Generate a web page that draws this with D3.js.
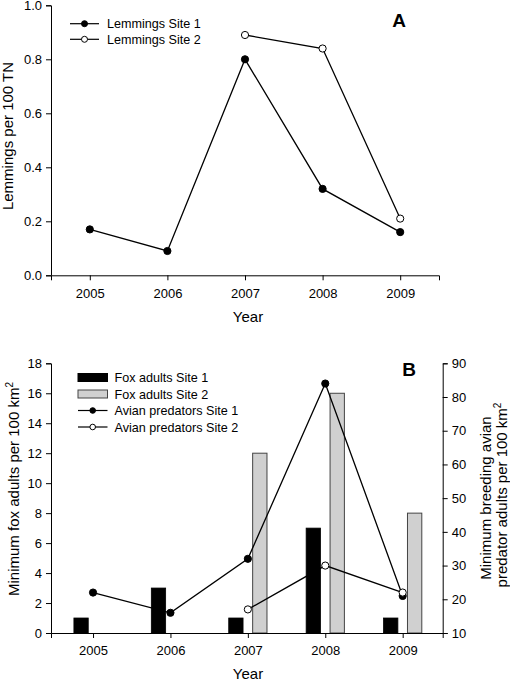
<!DOCTYPE html>
<html><head><meta charset="utf-8">
<script src="https://cdn.jsdelivr.net/npm/d3@7"></script>
<style>
body{margin:0;background:#fff}
svg{display:block;font-family:"Liberation Sans",Arial,sans-serif}
.axis path,.axis line{stroke:#000;stroke-width:1}
.axis text{font-size:13px;fill:#000;font-family:"Liberation Sans",Arial,sans-serif}
</style></head><body>
<script>
// ---- Data ----
const years = [2005, 2006, 2007, 2008, 2009];
const lemSite1 = [0.17, 0.09, 0.80, 0.32, 0.16];
const lemSite2 = [null, null, 0.89, 0.84, 0.21];
const foxSite1 = [1, 3, 1, 7, 1];
const foxSite2 = [0, 0, 12, 16, 8];
const avianSite1 = [22, 16, 32, 84, 21];
const avianSite2 = [null, null, 17, 30, 22];
const lemTicks = [0, 0.2, 0.4, 0.6, 0.8, 1.0];
const foxTicks = [0, 2, 4, 6, 8, 10, 12, 14, 16, 18];
const avianTicks = [10, 20, 30, 40, 50, 60, 70, 80, 90];

const W = 510, H = 681;
const svg = d3.select("body").append("svg").attr("width", W).attr("height", H);

function pts(vals){ return years.map((y,i)=>({x:y, v:vals[i]})).filter(d=>d.v!=null); }

// ---- Panel A ----
const xA = d3.scaleLinear().domain([2004.5, 2009.5]).range([51, 439]);
const yA = d3.scaleLinear().domain([0, 1]).range([275.3, 5.3]);
const gA = svg.append("g");
gA.append("g").attr("class","axis").attr("transform","translate(0,275.3)")
  .call(d3.axisBottom(xA).tickValues(years).tickFormat(d3.format("d")).tickSizeOuter(0).tickSize(5).tickPadding(8));
gA.append("g").attr("class","axis").attr("transform","translate(51,0)")
  .call(d3.axisLeft(yA).tickValues(lemTicks).tickFormat(d3.format(".1f")).tickSizeOuter(0).tickSize(5).tickPadding(4));

const lineA = d3.line().x(d=>xA(d.x)).y(d=>yA(d.v));
[[lemSite1,"#000"],[lemSite2,"#fff"]].forEach(([vals,fill])=>{
  const p = pts(vals);
  gA.append("path").datum(p).attr("d",lineA).attr("fill","none").attr("stroke","#000").attr("stroke-width",1.3);
  gA.selectAll(null).data(p).join("circle").attr("cx",d=>xA(d.x)).attr("cy",d=>yA(d.v)).attr("r",3.6)
    .attr("fill",fill).attr("stroke","#000").attr("stroke-width",1);
});
gA.append("text").attr("x",248).attr("y",322).attr("text-anchor","middle").attr("font-size",15).text("Year");
gA.append("text").attr("transform","translate(12.5,136) rotate(-90)").attr("text-anchor","middle").attr("font-size",15).text("Lemmings per 100 TN");
gA.append("text").attr("x",399).attr("y",26.5).attr("text-anchor","middle").attr("font-size",19).attr("font-weight","bold").text("A");

// Legend A
const legA = [["Lemmings Site 1","#000"],["Lemmings Site 2","#fff"]];
legA.forEach(([lab,fill],i)=>{
  const y = 23.7 + i*15.6;
  gA.append("line").attr("x1",70).attr("x2",99).attr("y1",y).attr("y2",y).attr("stroke","#000").attr("stroke-width",1.2);
  gA.append("circle").attr("cx",84.5).attr("cy",y).attr("r",3).attr("fill",fill).attr("stroke","#000");
  gA.append("text").attr("x",107).attr("y",y).attr("dy","0.36em").attr("font-size",12.6).text(lab);
});

// ---- Panel B ----
const xB = d3.scaleLinear().domain([2004.457, 2009.517]).range([51, 442.7]);
const yL = d3.scaleLinear().domain([0, 18]).range([633, 363.3]);
const yR = d3.scaleLinear().domain([10, 90]).range([633, 363.3]);
const gB = svg.append("g");
const barW = 0.185, gap = 0.062;

// bars
gB.selectAll(null).data(years.map((y,i)=>({x:y,v:foxSite1[i]})).filter(d=>d.v>0)).join("rect")
  .attr("x",d=>xB(d.x-gap-barW)).attr("width",d=>xB(d.x-gap)-xB(d.x-gap-barW))
  .attr("y",d=>yL(d.v)).attr("height",d=>yL(0)-yL(d.v)).attr("fill","#000").attr("stroke","#000").attr("stroke-width",0.8);
gB.selectAll(null).data(years.map((y,i)=>({x:y,v:foxSite2[i]})).filter(d=>d.v>0)).join("rect")
  .attr("x",d=>xB(d.x+gap)).attr("width",d=>xB(d.x+gap+barW)-xB(d.x+gap))
  .attr("y",d=>yL(d.v)).attr("height",d=>yL(0)-yL(d.v)).attr("fill","#d0d0d0").attr("stroke","#444").attr("stroke-width",1);

gB.append("g").attr("class","axis").attr("transform","translate(0,633)")
  .call(d3.axisBottom(xB).tickValues(years).tickFormat(d3.format("d")).tickSizeOuter(0).tickSize(5).tickPadding(8));
gB.append("g").attr("class","axis").attr("transform","translate(51,0)")
  .call(d3.axisLeft(yL).tickValues(foxTicks).tickFormat(d3.format("d")).tickSizeOuter(0).tickSize(5).tickPadding(4));
gB.append("g").attr("class","axis").attr("transform","translate(442.7,0)")
  .call(d3.axisRight(yR).tickValues(avianTicks).tickFormat(d3.format("d")).tickSizeOuter(0).tickSize(5).tickPadding(4));

const lineB = d3.line().x(d=>xB(d.x)).y(d=>yR(d.v));
[[avianSite1,"#000"],[avianSite2,"#fff"]].forEach(([vals,fill])=>{
  const p = pts(vals);
  gB.append("path").datum(p).attr("d",lineB).attr("fill","none").attr("stroke","#000").attr("stroke-width",1.3);
  gB.selectAll(null).data(p).join("circle").attr("cx",d=>xB(d.x)).attr("cy",d=>yR(d.v)).attr("r",3.6)
    .attr("fill",fill).attr("stroke","#000").attr("stroke-width",1);
});

gB.append("text").attr("x",248).attr("y",679).attr("text-anchor","middle").attr("font-size",15).text("Year");
const tl = gB.append("text").attr("transform","translate(19,489) rotate(-90)").attr("text-anchor","middle").attr("font-size",15);
tl.append("tspan").text("Minimum fox adults per 100 km");
tl.append("tspan").attr("font-size",10).attr("dy","-0.6em").text("2");
const tr1 = gB.append("text").attr("transform","translate(491,498) rotate(-90)").attr("text-anchor","middle").attr("font-size",15).text("Minimum breeding avian");
const tr2 = gB.append("text").attr("transform","translate(506.5,495) rotate(-90)").attr("text-anchor","middle").attr("font-size",15);
tr2.append("tspan").text("predator adults per 100 km");
tr2.append("tspan").attr("font-size",10).attr("dy","-0.6em").text("2");
gB.append("text").attr("x",409).attr("y",376).attr("text-anchor","middle").attr("font-size",19).attr("font-weight","bold").text("B");

// Legend B
const legB = [
  {lab:"Fox adults Site 1", type:"bar", fill:"#000", stroke:"#000"},
  {lab:"Fox adults Site 2", type:"bar", fill:"#d0d0d0", stroke:"#444"},
  {lab:"Avian predators Site 1", type:"line", fill:"#000"},
  {lab:"Avian predators Site 2", type:"line", fill:"#fff"}
];
legB.forEach((d,i)=>{
  const y = 377.5 + i*16.5;
  if(d.type==="bar"){
    gB.append("rect").attr("x",78).attr("y",y-4).attr("width",29.5).attr("height",8).attr("fill",d.fill).attr("stroke",d.stroke);
  } else {
    gB.append("line").attr("x1",78).attr("x2",107.5).attr("y1",y).attr("y2",y).attr("stroke","#000").attr("stroke-width",1.2);
    gB.append("circle").attr("cx",92.7).attr("cy",y).attr("r",2.8).attr("fill",d.fill).attr("stroke","#000");
  }
  gB.append("text").attr("x",114.5).attr("y",y).attr("dy","0.36em").attr("font-size",12.6).text(d.lab);
});
</script>
</body></html>
